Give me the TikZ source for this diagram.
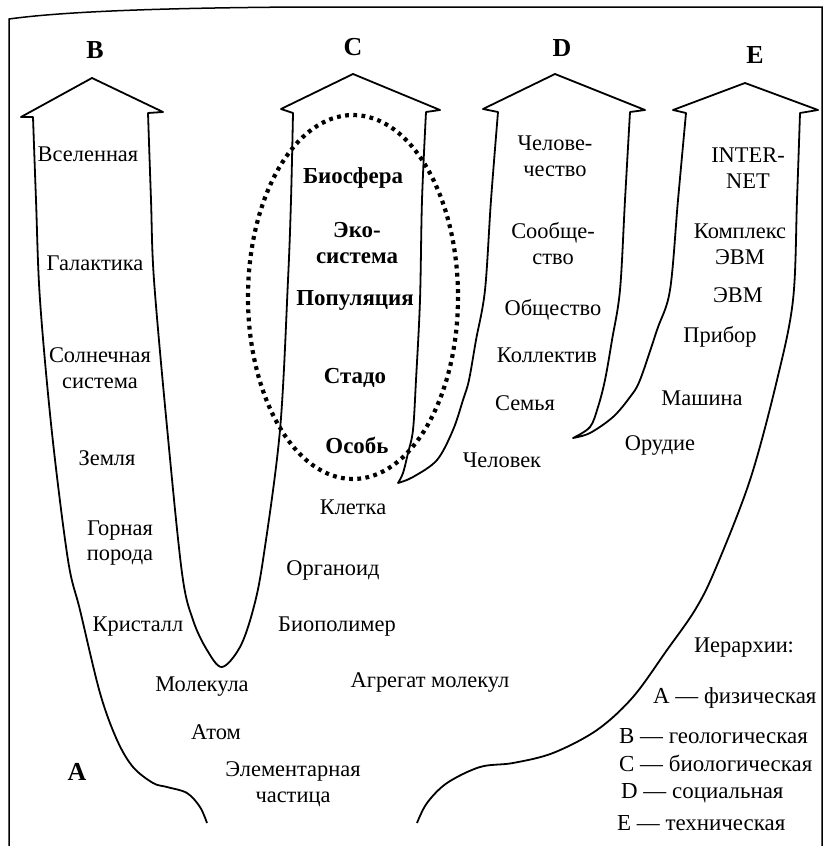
\documentclass[tikz,border=0pt]{standalone}
\usepackage{fontspec}
\setmainfont{Liberation Serif}
\begin{document}
\begin{tikzpicture}[x=1bp,y=-1bp,
  lbl/.style={font=\fontsize{22.5}{26}\selectfont, align=center, inner sep=0pt},
  blbl/.style={lbl, font=\fontsize{23}{26}\selectfont\bfseries},
  letter/.style={inner sep=0pt, font=\fontsize{26}{26}\selectfont\bfseries},
  leg/.style={inner sep=0pt, anchor=west, font=\fontsize{23}{24}\selectfont},
  contour/.style={line width=1.8bp, line join=round},
  dotring/.style={line width=4.2bp, dash pattern=on 3.8bp off 4.4bp}]
\useasboundingbox (0,0) rectangle (826,846);
% page frame
\draw[line width=1.5bp] (9,846) -- (9,19) .. controls (60,12) and (150,8) .. (300,7) -- (822,7) -- (822,846);

% main contour
\draw[contour]
  plot[smooth, tension=0.55] coordinates {(207,823) (200,807) (187,793) (167,787) (153,783) (133,767) (117,740) (100,693) (80,610) (68,560) (52,433) (40,300) (36,200) (33,117)}
  -- (21,117) -- (92,78) -- (163,112) -- (148,113)
  -- plot[smooth, tension=0.55] coordinates {(148,113) (151,200) (154,280) (167,427) (182,573) (193,620) (207,650) (222,667) (240,647) (253,610) (263,560) (280,430) (288,280) (291,200) (293,113)}
  -- (281,109) -- (353,74) -- (440,110) -- (426,112)
  -- plot[smooth, tension=0.55] coordinates {(426,112) (422,200) (420,300) (416,380) (413,430) (408,453) (403,473) (398,483)}
  -- plot[smooth, tension=0.55] coordinates {(398,483) (413,477) (437,460) (453,430) (463,400) (469,380) (476,340) (485,290) (491,200) (498,112)}
  -- (483,109) -- (555,74) -- (645,110) -- (630,112)
  -- plot[smooth, tension=0.55] coordinates {(630,112) (625,200) (620,290) (612,340) (605,380) (598,407) (590,427) (573,438)}
  -- plot[smooth, tension=0.55] coordinates {(573,438) (590,433) (613,417) (630,397) (640,380) (657,330) (670,290) (678,200) (686,113)}
  -- (673,110) -- (745,83) -- (818,110) -- (800,113)
  -- plot[smooth, tension=0.55] coordinates {(800,113) (797,200) (793,300) (777,380) (750,480) (715,570) (695,610) (667,650) (633,697) (597,730) (553,753) (513,763) (480,767) (447,783) (427,803) (417,823)};

% dotted ellipse
\draw[dotring] (353,297) ellipse [x radius=105, y radius=182];

% letters
\node[letter] (lB) at (95,50) {B};
\node[letter] (lC) at (353,47) {C};
\node[letter] (lD) at (562,48) {D};
\node[letter] (lE) at (755,55) {E};
\node[letter] (lA) at (77,772) {A};

% A / B
\node[lbl] (t1) at (88,154) {Вселенная};
\node[lbl] (t2) at (95,263) {Галактика};
\node[lbl] (t3) at (100,368) {Солнечная\\система};
\node[lbl] (t4) at (107,458) {Земля};
\node[lbl] (t5) at (120,543) {Горная\\порода};
\node[lbl] (t6) at (138,627) {Кристалл};
\node[lbl] (t7) at (202,687) {Молекула};
\node[lbl] (t8) at (216,732) {Атом};
\node[lbl] (t9) at (293,784) {Элементарная\\частица};

% C
\node[blbl] (c1) at (353,178) {Биосфера};
\node[blbl] (c2) at (357,243) {Эко-\\система};
\node[blbl] (c3) at (355,300) {Популяция};
\node[blbl] (c4) at (355,378) {Стадо};
\node[blbl] (c5) at (357,445) {Особь};
\node[lbl] (c6) at (353,507) {Клетка};
\node[lbl] (c7) at (333,570) {Органоид};
\node[lbl] (c8) at (337,627) {Биополимер};
\node[lbl] (c9) at (430,683) {Агрегат молекул};

% D
\node[lbl] (d1) at (555,156) {Челове-\\чество};
\node[lbl] (d2) at (553,244) {Сообще-\\ство};
\node[lbl] (d3) at (553,310) {Общество};
\node[lbl] (d4) at (547,355) {Коллектив};
\node[lbl] (d5) at (525,403) {Семья};
\node[lbl] (d6) at (502,460) {Человек};

% E
\node[lbl] (e1) at (748,168) {INTER-\\NET};
\node[lbl] (e2) at (740,244) {Комплекс\\ЭВМ};
\node[lbl] (e3) at (738,295) {ЭВМ};
\node[lbl] (e4) at (720,337) {Прибор};
\node[lbl] (e5) at (702,398) {Машина};
\node[lbl] (e6) at (660,445) {Орудие};

% legend
\node[lbl] (g0) at (744,648) {Иерархии:};
\node[leg] (g1) at (653,698) {A — физическая};
\node[leg] (g2) at (619,736) {B — геологическая};
\node[leg] (g3) at (619,763) {C — биологическая};
\node[leg] (g4) at (621,793) {D — социальная};
\node[leg] (g5) at (617,823) {E — техническая};
\end{tikzpicture}
\end{document}
